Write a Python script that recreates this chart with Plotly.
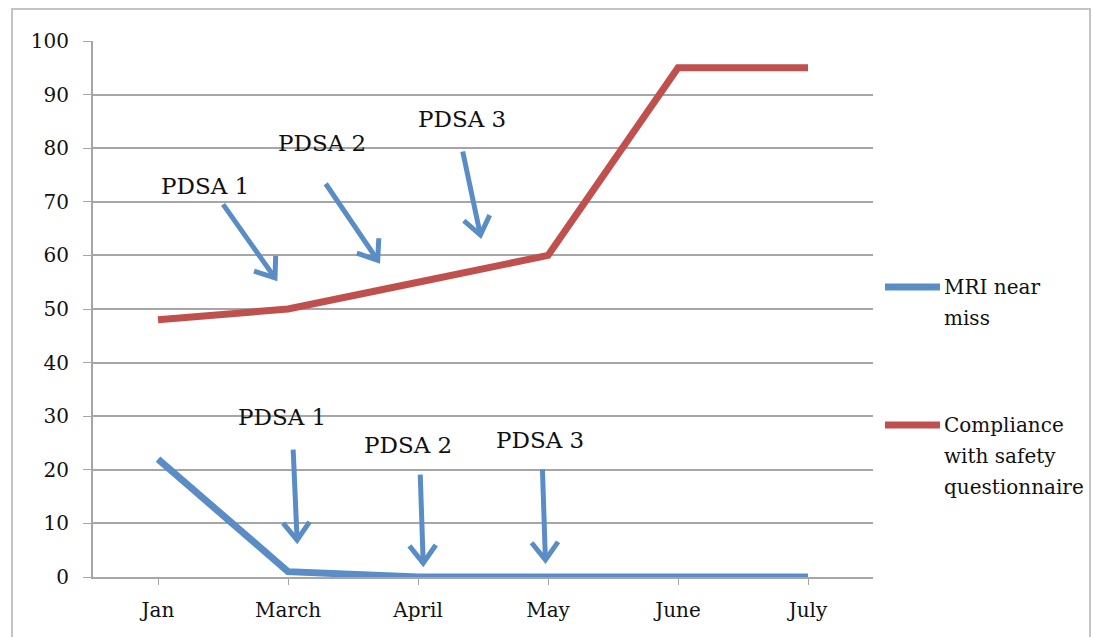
import numpy as np
import plotly.graph_objects as go

# Monthly data
months = ["Jan", "March", "April", "May", "June", "July"]
mri_near_miss = [22, 1, 0, 0, 0, 0]
compliance = [48, 50, 55, 60, 95, 95]
y_ticks = [0, 10, 20, 30, 40, 50, 60, 70, 80, 90, 100]

# PDSA cycle markers: label text position and arrow head position (category index, value)
pdsa_labels = ["PDSA 1", "PDSA 2", "PDSA 3", "PDSA 1", "PDSA 2", "PDSA 3"]
label_x = [0.36, 1.26, 2.34, 0.95, 1.92, 2.94]
label_y = [72.9, 81.0, 85.4, 29.9, 24.6, 25.6]
head_x = [0.90, 1.69, 2.48, 1.07, 2.04, 2.98]
head_y = [55.8, 59.1, 63.8, 6.9, 2.6, 3.2]
tail_dx = [-53, -53, -18, -4, -3, -3]   # pixels
tail_dy = [-75, -78, -85, -92, -90, -92]  # pixels

# Legend entries (drawn by hand so the key line can be longer)
legend_names = [["MRI near", "miss"], ["Compliance", "with safety", "questionnaire"]]

BLUE = "#5a8cc6"
RED = "#c0504d"
GRID = "#a6a6a6"
TEXT = "#111111"
FONT = "DejaVu Serif"

W, H = 1093, 637
ML, MR, MT, MB = 93, 220, 41, 60
PW, PH = W - ML - MR, H - MT - MB
PX_PER_CAT = PW / 6.0
PX_PER_UNIT = PH / 100.0

fig = go.Figure()
for vals, color, name in [(mri_near_miss, BLUE, "MRI near miss"),
                          (compliance, RED, "Compliance with safety questionnaire")]:
    fig.add_trace(go.Scatter(
        x=list(range(len(months))), y=vals, mode="lines",
        line=dict(color=color, width=7), name=name, showlegend=False,
    ))

annotations = []
shapes = []

for t, lx, ly in zip(pdsa_labels, label_x, label_y):
    annotations.append(dict(
        x=lx, y=ly, xref="x", yref="y", text=t, showarrow=False,
        font=dict(family=FONT, size=23, color=TEXT),
    ))

# Arrow shafts, with open chevron heads
ARM = 22.0
ANG = np.deg2rad(37)
for hx, hy, dx, dy in zip(head_x, head_y, tail_dx, tail_dy):
    annotations.append(dict(
        x=hx, y=hy, xref="x", yref="y", text="", showarrow=True,
        ax=dx, ay=dy, axref="pixel", ayref="pixel",
        arrowhead=0, arrowwidth=5, arrowcolor=BLUE,
    ))
    # back direction (head -> tail) in screen pixels, y pointing down
    v = np.array([dx, dy], dtype=float)
    v /= np.linalg.norm(v)
    pts = []
    for s in (1, -1):
        c, sn = np.cos(s * ANG), np.sin(s * ANG)
        r = np.array([c * v[0] - sn * v[1], sn * v[0] + c * v[1]]) * ARM
        pts.append((hx + r[0] / PX_PER_CAT, hy - r[1] / PX_PER_UNIT))
    path = (f"M {pts[0][0]},{pts[0][1]} L {hx},{hy} L {pts[1][0]},{pts[1][1]}")
    shapes.append(dict(type="path", xref="x", yref="y", path=path,
                       line=dict(color=BLUE, width=5)))

# Legend
legend_colors = [BLUE, RED]
legend_line_py = [287, 425]
LINE_STEP = 31
for names, color, py in zip(legend_names, legend_colors, legend_line_py):
    yp = (H - MB - py) / PH
    shapes.append(dict(type="line", xref="paper", yref="paper",
                       x0=(885 - ML) / PW, x1=(940 - ML) / PW, y0=yp, y1=yp,
                       line=dict(color=color, width=7)))
    for i, s in enumerate(names):
        annotations.append(dict(
            x=(942 - ML) / PW, y=(H - MB - (py + i * LINE_STEP)) / PH,
            xref="paper", yref="paper", xanchor="left", yanchor="middle",
            text=s, showarrow=False,
            font=dict(family=FONT, size=20, color=TEXT),
        ))

# Outer frame
shapes.append(dict(
    type="rect", xref="paper", yref="paper",
    x0=(12 - ML) / PW, x1=(1090 - ML) / PW,
    y0=(H - MB - 660) / PH, y1=(H - MB - 9) / PH,
    line=dict(color="#c4c4c4", width=2), fillcolor="rgba(0,0,0,0)",
    layer="below",
))

fig.update_layout(
    width=W, height=H,
    margin=dict(l=ML, r=MR, t=MT, b=MB),
    paper_bgcolor="white", plot_bgcolor="white",
    showlegend=False,
    annotations=annotations,
    shapes=shapes,
)
fig.update_xaxes(
    range=[-0.5, 5.5], tickmode="array",
    tickvals=list(range(len(months))), ticktext=months,
    showgrid=False, showline=True, linecolor=GRID, linewidth=2,
    ticks="outside", tickson="boundaries", ticklen=6, tickcolor=GRID,
    ticklabelstandoff=8,
    tickfont=dict(family=FONT, size=20, color=TEXT),
    zeroline=False,
)
fig.update_yaxes(
    range=[0, 100], tickvals=y_ticks,
    showgrid=True, gridcolor=GRID, gridwidth=2,
    showline=True, linecolor=GRID, linewidth=2,
    ticks="outside", ticklen=8, tickcolor=GRID,
    ticklabelstandoff=10,
    tickfont=dict(family=FONT, size=20, color=TEXT),
    zeroline=False,
)

fig.write_html("out.html")
